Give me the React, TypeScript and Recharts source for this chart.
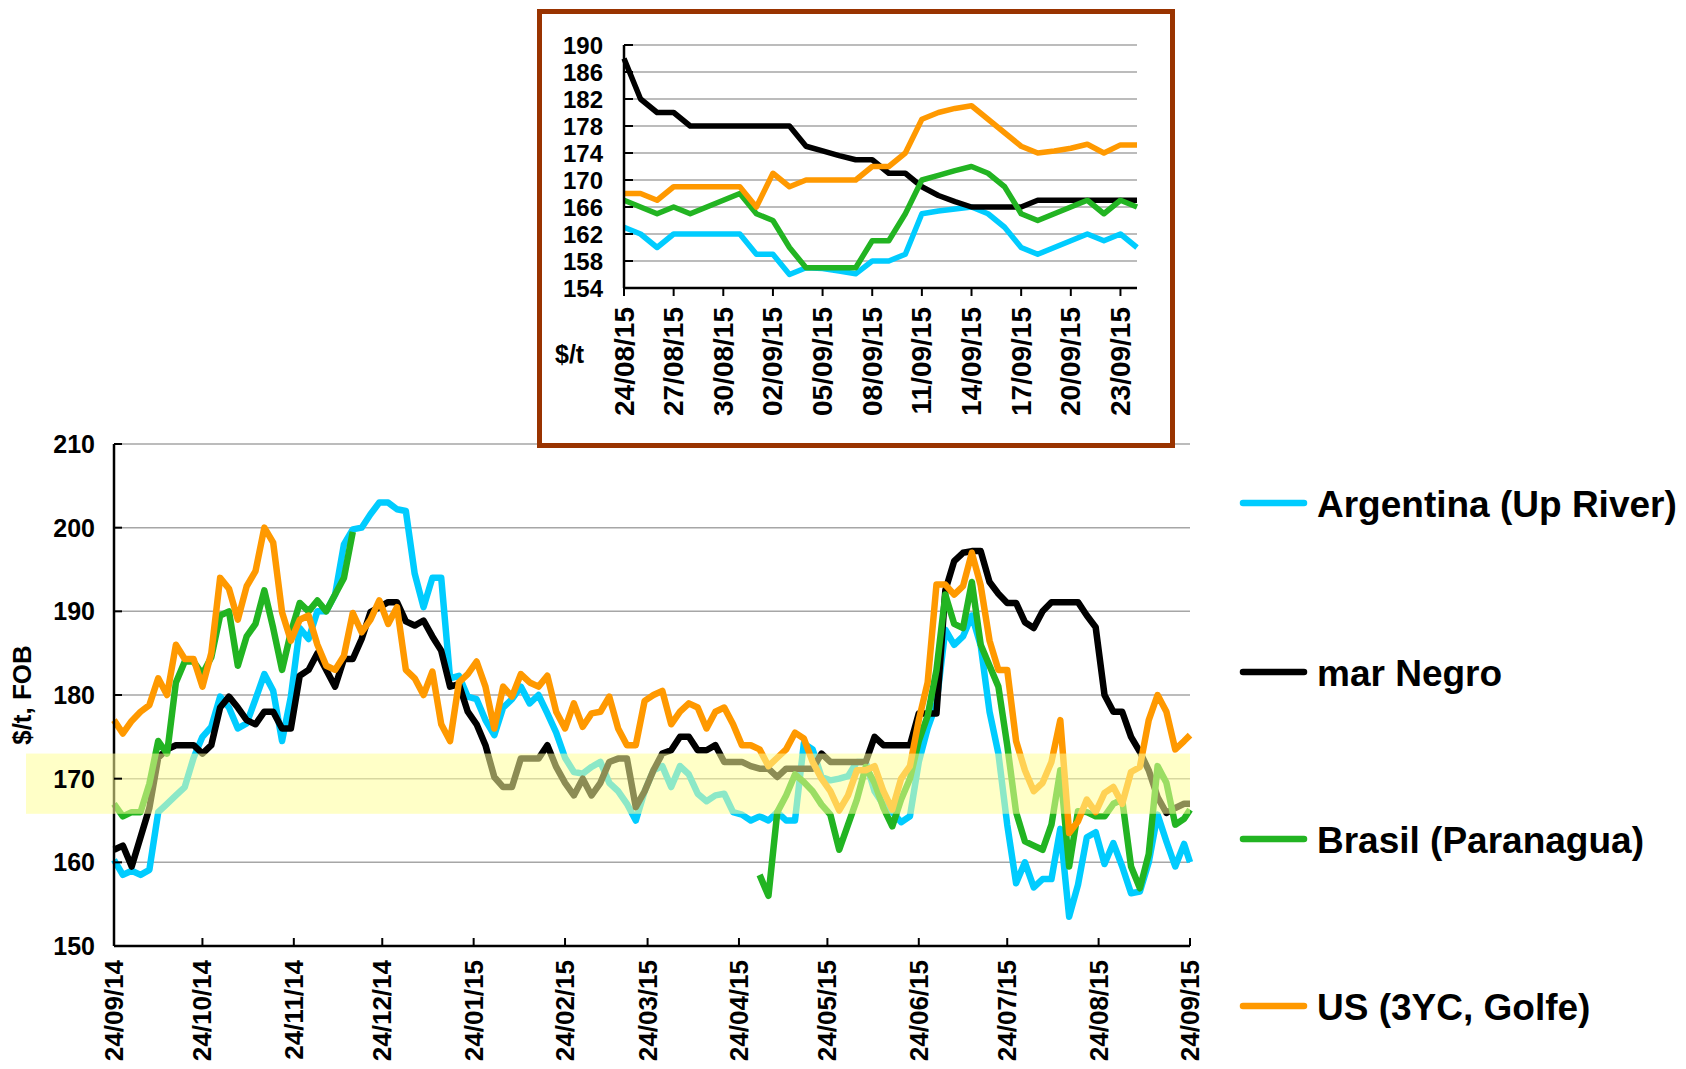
import React from 'react';
import { LineChart, Line, XAxis, YAxis, CartesianGrid, ReferenceArea } from 'recharts';

const FONT = "'Liberation Sans', Arial, sans-serif";

// main chart: one point every 3 days from 24/09/14, last point is 24/09/15 (day 365)
const days = [...Array.from({ length: 122 }, (_, i) => i * 3), 365];

const mainTickDays = [0, 30, 61, 91, 122, 153, 181, 212, 242, 273, 303, 334, 365];
const mainTickLabels = [
  '24/09/14', '24/10/14', '24/11/14', '24/12/14', '24/01/15', '24/02/15', '24/03/15',
  '24/04/15', '24/05/15', '24/06/15', '24/07/15', '24/08/15', '24/09/15',
];
const mainYTicks = [150, 160, 170, 180, 190, 200, 210];

const argentina = [
  160.3, 158.5, 159, 158.5, 159.1, 166, 167, 168, 169, 172.5,
  175, 176.2, 179.8, 178.5, 176, 176.6, 179.5, 182.5, 180.5, 174.5,
  179.8, 188, 186.7, 190, 190, 192, 198, 199.8, 200, 201.6,
  203, 203, 202.2, 202, 194.5, 190.5, 194, 194, 182, 182.3,
  179.8, 179.5, 177, 175.2, 178.5, 179.5, 181, 179, 180, 177.8,
  175.5, 172.5, 170.8, 170.6, 171.4, 172, 169.5, 168.5, 167, 165,
  168.5, 171, 171.5, 169, 171.5, 170.5, 168.2, 167.3, 168, 168.2,
  166, 165.7, 165, 165.5, 165, 166, 165, 165, 174.2, 173.5,
  170.2, 169.8, 170, 170.3, 172, 172, 168.5, 166.9, 166, 164.8,
  165.5, 172, 176, 179, 187.8, 186, 187, 189.5, 185.9, 178,
  173, 164.5, 157.5, 160, 157, 158, 158, 164, 153.5, 157.3,
  163, 163.6, 159.8, 162.3, 159.5, 156.3, 156.5, 160, 165.7, 162.5,
  159.5, 162.2, 160,
];

const marNegro = [
  161.5, 162, 159.5, 163, 166.5, 172.5, 173.5, 174, 174, 174,
  173, 174, 178.5, 179.8, 178.5, 177, 176.5, 178, 178, 176,
  176, 182.3, 183, 185, 183, 181, 184.3, 184.3, 186.7, 189.9,
  190.5, 191.1, 191.1, 188.8, 188.3, 188.9, 187, 185.3, 181, 181.3,
  178, 176.5, 174, 170.2, 169, 169, 172.4, 172.4, 172.4, 174,
  171.4, 169.5, 168, 170, 168, 169.5, 172, 172.4, 172.4, 166.6,
  168.5, 171, 173, 173.4, 175, 175, 173.4, 173.4, 174, 172,
  172, 172, 171.5, 171.2, 171.2, 170.2, 171.2, 171.2, 171.2, 171.2,
  173, 172, 172, 172, 172, 172, 175, 174, 174, 174,
  174, 177.8, 177.8, 177.8, 192.5, 196, 197, 197.2, 197.2, 193.5,
  192.1, 191, 191, 188.7, 188, 190, 191.1, 191.1, 191.1, 191.1,
  189.5, 188.1, 180, 178, 178, 175, 173.2, 171, 167.8, 165.9,
  166.5, 167, 167,
];

const brasil = [
  167, 165.5, 166, 166, 169.4, 174.5, 173, 181.5, 184, 184,
  182.5, 184.5, 189.5, 190, 183.5, 187, 188.5, 192.5, 188, 183,
  187.5, 191, 190, 191.3, 190, 192, 194, 199.5, null, null,
  null, null, null, null, null, null, null, null, null, null,
  null, null, null, null, null, null, null, null, null, null,
  null, null, null, null, null, null, null, null, null, null,
  null, null, null, null, null, null, null, null, null, null,
  null, null, null, 158.5, 156, 166, 168, 170.5, 169.6, 168.5,
  166.9, 165.7, 161.5, 164.5, 167.5, 171.4, 169.5, 166.5, 164.3, 167.5,
  170, 174.5, 177.5, 183, 192, 188.5, 188, 193.5, 186, 183.5,
  181, 174, 166, 162.5, 162, 161.5, 164.5, 171, 159.5, 166.1,
  166, 165.5, 165.5, 167, 167.5, 159.5, 156.9, 161, 171.5, 169.5,
  164.5, 165.2, 166.3,
];

const us = [
  177, 175.4, 176.9, 178, 178.8, 182, 180, 186, 184.3, 184.3,
  181, 185, 194, 192.7, 189, 193, 194.8, 200, 198.2, 189.9,
  186.5, 189, 189.5, 186, 183.5, 183, 184.7, 189.8, 187.5, 189,
  191.3, 188.5, 190.5, 183, 182, 180, 182.8, 176.5, 174.5, 181.5,
  182.5, 184, 181, 176, 181, 179.8, 182.5, 181.5, 181, 182.3,
  178, 176, 179, 176.2, 177.8, 178, 179.8, 176, 174, 174,
  179.3, 180, 180.5, 176.5, 178, 179, 178.5, 176, 178, 178.5,
  176.5, 174, 174, 173.5, 171.5, 172.5, 173.5, 175.5, 174.8, 172,
  170, 168.5, 166.2, 168, 171, 171, 171.5, 168.5, 166.3, 170,
  171.5, 177, 181.5, 193.2, 193.2, 192, 193, 197, 193.1, 186.5,
  183, 183, 174.5, 171, 168.5, 169.5, 172, 177, 163.5, 164.9,
  167.5, 166, 168.3, 169, 167, 170.8, 171.4, 177, 180, 178,
  173.5, 174.5, 175.2,
];

// highlighted band across the main chart
const bandLow = 165.8;
const bandHigh = 173;

// inset: daily, 24/08/15 .. 24/09/15
const insetDays = Array.from({ length: 32 }, (_, i) => i);
const insetTickDays = [0, 3, 6, 9, 12, 15, 18, 21, 24, 27, 30];
const insetTickLabels = [
  '24/08/15', '27/08/15', '30/08/15', '02/09/15', '05/09/15', '08/09/15',
  '11/09/15', '14/09/15', '17/09/15', '20/09/15', '23/09/15',
];
const insetYTicks = [154, 158, 162, 166, 170, 174, 178, 182, 186, 190];

const insetArgentina = [
  163, 162, 160, 162, 162, 162, 162, 162, 159, 159, 156, 157, 156.9, 156.5, 156.1, 158,
  158, 159, 165, 165.4, 165.7, 166, 165, 163, 160, 159, 160, 161, 162, 161, 162, 160,
];
const insetMarNegro = [
  188, 182, 180, 180, 178, 178, 178, 178, 178, 178, 178, 175, 174.3, 173.6, 173, 173,
  171, 171, 169, 167.7, 166.8, 166, 166, 166, 166, 167, 167, 167, 167, 167, 167, 167,
];
const insetBrasil = [
  167, 166, 165, 166, 165, 166, 167, 168, 165, 164, 160, 157, 157, 157, 157, 161,
  161, 165, 170, 170.7, 171.4, 172, 171, 169, 165, 164, 165, 166, 167, 165, 167, 166,
];
const insetUs = [
  168, 168, 167, 169, 169, 169, 169, 169, 166, 171, 169, 170, 170, 170, 170, 172,
  172, 174, 179, 180, 180.6, 181, 179, 177, 175, 174, 174.3, 174.7, 175.3, 174, 175.2, 175.2,
];

const series = [
  { key: 'argentina', name: 'Argentina (Up River)', color: '#00ccff' },
  { key: 'marNegro', name: 'mar Negro', color: '#000000' },
  { key: 'brasil', name: 'Brasil (Paranagua)', color: '#22b422' },
  { key: 'us', name: 'US (3YC, Golfe)', color: '#ff9900' },
];

const mainData = days.map((day, i) => ({
  day,
  argentina: argentina[i],
  marNegro: marNegro[i],
  brasil: brasil[i],
  us: us[i],
}));

const insetData = insetDays.map((day, i) => ({
  day,
  argentina: insetArgentina[i],
  marNegro: insetMarNegro[i],
  brasil: insetBrasil[i],
  us: insetUs[i],
}));

const textStyle = { fontFamily: FONT, fontWeight: 700, fill: '#000' };

const MainXTick = ({ x, y, payload }: any) => {
  const label = mainTickLabels[mainTickDays.indexOf(payload.value)];
  return (
    <g>
      <line x1={x} x2={x} y1={y} y2={y - 8} stroke="#000" strokeWidth={2} />
      <text
        transform={`translate(${x},${y + 14}) rotate(-90)`}
        textAnchor="end"
        dominantBaseline="central"
        fontSize={26}
        {...textStyle}
      >
        {label}
      </text>
    </g>
  );
};

const MainYTick = ({ x, y, payload }: any) => (
  <g>
    <line x1={x} x2={x + 8} y1={y} y2={y} stroke="#000" strokeWidth={2} />
    <text x={x - 19} y={y} textAnchor="end" dominantBaseline="central" fontSize={25} {...textStyle}>
      {payload.value}
    </text>
  </g>
);

const InsetXTick = ({ x, y, payload }: any) => {
  const label = insetTickLabels[insetTickDays.indexOf(payload.value)];
  return (
    <g>
      <line x1={x} x2={x} y1={y} y2={y + 8} stroke="#000" strokeWidth={2} />
      <text
        transform={`translate(${x},${y + 19}) rotate(-90)`}
        textAnchor="end"
        dominantBaseline="central"
        fontSize={28}
        {...textStyle}
      >
        {label}
      </text>
    </g>
  );
};

const InsetYTick = ({ x, y, payload }: any) => (
  <g>
    <line x1={x} x2={x + 9} y1={y} y2={y} stroke="#000" strokeWidth={2} />
    <text x={x - 21} y={y} textAnchor="end" dominantBaseline="central" fontSize={24} {...textStyle}>
      {payload.value}
    </text>
  </g>
);

// band reaches left past the axis, over the "170" label
const Band = (p: any) => (
  <rect x={p.x - 88} y={p.y} width={p.width + 88} height={p.height} fill="#ffff99" fillOpacity={0.55} />
);

const legendY = [503, 672, 839, 1006];

export default function App() {
  return (
    <div
      style={{
        position: 'absolute',
        left: 0,
        top: 0,
        width: 1686,
        height: 1069,
        background: '#fff',
        fontFamily: FONT,
        overflow: 'hidden',
      }}
    >
      <div style={{ position: 'absolute', left: 0, top: 380 }}>
        <LineChart width={1240} height={689} data={mainData} margin={{ top: 64, right: 50, bottom: 23, left: 14 }}>
          <CartesianGrid vertical={false} stroke="#a6a6a6" strokeWidth={1.5} />
          <XAxis
            dataKey="day"
            type="number"
            domain={[0, 365]}
            ticks={mainTickDays}
            interval={0}
            height={100}
            tickSize={0}
            tickMargin={0}
            tickLine={false}
            axisLine={{ stroke: '#000', strokeWidth: 2.5 }}
            tick={MainXTick}
          />
          <YAxis
            domain={[150, 210]}
            ticks={mainYTicks}
            interval={0}
            width={100}
            tickSize={0}
            tickMargin={0}
            tickLine={false}
            axisLine={{ stroke: '#000', strokeWidth: 2.5 }}
            tick={MainYTick}
          />
          {series.map((s) => (
            <Line
              key={s.key}
              type="linear"
              dataKey={s.key}
              stroke={s.color}
              strokeWidth={6.5}
              strokeLinejoin="round"
              dot={false}
              activeDot={false}
              connectNulls={false}
              isAnimationActive={false}
            />
          ))}
          <ReferenceArea y1={bandLow} y2={bandHigh} shape={Band} zIndex={600} />
        </LineChart>
      </div>

      <div
        style={{
          position: 'absolute',
          left: 537,
          top: 9,
          width: 638,
          height: 439,
          border: '5px solid #993300',
          boxSizing: 'border-box',
          background: '#fff',
        }}
      >
        <div style={{ position: 'absolute', left: 0, top: 0 }}>
          <LineChart width={628} height={429} data={insetData} margin={{ top: 31, right: 33, bottom: 5, left: 2 }}>
            <CartesianGrid vertical={false} stroke="#a6a6a6" strokeWidth={1.5} />
            <XAxis
              dataKey="day"
              type="number"
              domain={[0, 31]}
              ticks={insetTickDays}
              interval={0}
              height={150}
              tickSize={0}
              tickMargin={0}
              tickLine={false}
              axisLine={{ stroke: '#000', strokeWidth: 2.5 }}
              tick={InsetXTick}
            />
            <YAxis
              domain={[154, 190]}
              ticks={insetYTicks}
              interval={0}
              width={80}
              tickSize={0}
              tickMargin={0}
              tickLine={false}
              axisLine={{ stroke: '#000', strokeWidth: 2.5 }}
              tick={InsetYTick}
            />
            {series.map((s) => (
              <Line
                key={s.key}
                type="linear"
                dataKey={s.key}
                stroke={s.color}
                strokeWidth={5.5}
                strokeLinejoin="round"
                dot={false}
                activeDot={false}
                isAnimationActive={false}
              />
            ))}
          </LineChart>
        </div>
      </div>

      <svg
        width={1686}
        height={1069}
        style={{ position: 'absolute', left: 0, top: 0, pointerEvents: 'none' }}
      >
        <text
          transform="translate(22,695) rotate(-90)"
          textAnchor="middle"
          dominantBaseline="central"
          fontSize={26}
          {...textStyle}
        >
          $/t, FOB
        </text>
        <text x={555} y={363} fontSize={25} {...textStyle}>
          $/t
        </text>
        {series.map((s, i) => (
          <g key={s.key}>
            <line
              x1={1243}
              x2={1304}
              y1={legendY[i]}
              y2={legendY[i]}
              stroke={s.color}
              strokeWidth={6.5}
              strokeLinecap="round"
            />
            <text x={1317} y={legendY[i] + 13.5} fontSize={37} {...textStyle}>
              {s.name}
            </text>
          </g>
        ))}
      </svg>
    </div>
  );
}
